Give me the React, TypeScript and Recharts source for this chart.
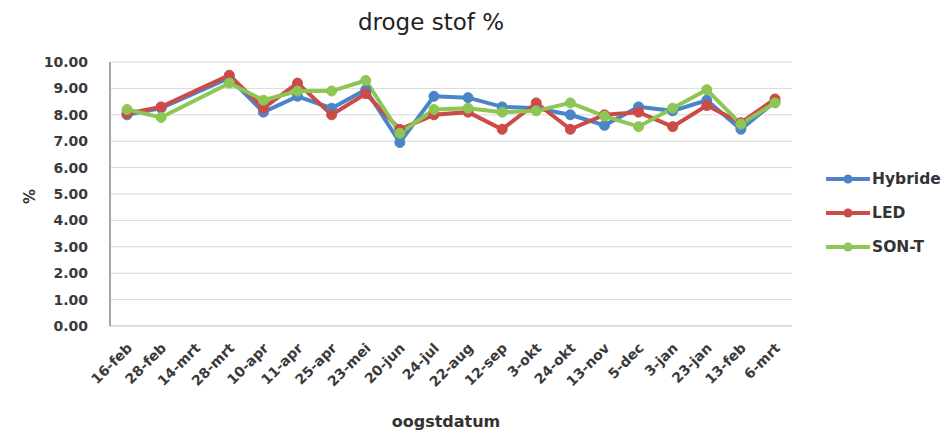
import {
  CartesianGrid,
  Legend,
  Line,
  LineChart,
  XAxis,
  YAxis,
} from "recharts";

const dates = [
  "16-feb", "28-feb", "14-mrt", "28-mrt", "10-apr", "11-apr", "25-apr",
  "23-mei", "20-jun", "24-jul", "22-aug", "12-sep", "3-okt", "24-okt",
  "13-nov", "5-dec", "3-jan", "23-jan", "13-feb", "6-mrt",
];

const hybride = [
  8.0, 8.25, null, 9.4, 8.1, 8.7, 8.25, 8.95, 6.95, 8.7, 8.65, 8.3, 8.25,
  8.0, 7.6, 8.3, 8.15, 8.55, 7.45, 8.5,
];
const led = [
  8.05, 8.3, null, 9.5, 8.25, 9.2, 8.0, 8.8, 7.45, 8.0, 8.1, 7.45, 8.45,
  7.45, 8.0, 8.1, 7.55, 8.35, 7.7, 8.6,
];
const sonT = [
  8.2, 7.9, null, 9.2, 8.55, 8.9, 8.9, 9.3, 7.3, 8.2, 8.25, 8.1, 8.15,
  8.45, 7.95, 7.55, 8.25, 8.95, 7.65, 8.45,
];

const yTicks = [0, 1, 2, 3, 4, 5, 6, 7, 8, 9, 10];

const series = [
  { key: "Hybride", color: "#4a85c9" },
  { key: "LED", color: "#cc4b46" },
  { key: "SON-T", color: "#8dc653" },
];

const data = dates.map((d, i) => ({
  date: d,
  Hybride: hybride[i],
  LED: led[i],
  "SON-T": sonT[i],
}));

const font = "'DejaVu Sans', Verdana, sans-serif";

function DateTick({ x, y, payload }: any) {
  return (
    <g transform={`translate(${x + 6},${y + 15}) rotate(-45)`}>
      <text
        textAnchor="end"
        fontSize={14}
        fontWeight="bold"
        fill="#3a3a3a"
        fontFamily={font}
      >
        {payload.value}
      </text>
    </g>
  );
}

function SideLegend({ payload }: any) {
  return (
    <div
      style={{ fontFamily: font, fontSize: 15.5, fontWeight: "bold", color: "#333" }}
    >
      {(payload || []).map((p: any) => (
        <div
          key={p.value}
          style={{ display: "flex", alignItems: "center", height: 34 }}
        >
          <svg width={46} height={12}>
            <line x1={0} y1={6} x2={44} y2={6} stroke={p.color} strokeWidth={4} />
            <circle cx={22} cy={6} r={4.5} fill={p.color} />
          </svg>
          <span>{p.value}</span>
        </div>
      ))}
    </div>
  );
}

export default function App() {
  return (
    <div style={{ position: "relative", width: 944, height: 432, background: "#fff" }}>
      <style>{`body{margin:0}`}</style>
      <div
        style={{
          position: "absolute",
          top: 9,
          left: 0,
          width: 862,
          textAlign: "center",
          fontFamily: font,
          fontSize: 23,
          color: "#222",
        }}
      >
        droge stof %
      </div>
      <LineChart
        width={944}
        height={432}
        data={data}
        margin={{ top: 62, right: 152, left: 0, bottom: 0 }}
      >
        <CartesianGrid vertical={false} stroke="#d9d9d9" />
        <XAxis
          dataKey="date"
          height={106}
          padding={{ left: 17, right: 17 }}
          tick={<DateTick />}
          tickLine={false}
          interval={0}
          stroke="#cfcfcf"
          label={{
            value: "oogstdatum",
            position: "insideBottom",
            offset: 5,
            dx: -5,
            fontSize: 16,
            fontWeight: "bold",
            fill: "#333",
            fontFamily: font,
          }}
        />
        <YAxis
          width={110}
          domain={[0, 10]}
          ticks={yTicks}
          tickFormatter={(v: number) => v.toFixed(2)}
          tickLine={false}
          tickMargin={16}
          stroke="#a6a6a6"
          strokeWidth={2}
          tick={{ fontSize: 14, fontWeight: "bold", fill: "#3a3a3a", fontFamily: font }}
          label={{
            value: "%",
            angle: -90,
            position: "insideLeft",
            offset: 30,
            dy: 10,
            fontSize: 15,
            fontWeight: "bold",
            fill: "#333",
            fontFamily: font,
          }}
        />
        <Legend
          layout="vertical"
          align="center"
          verticalAlign="middle"
          content={<SideLegend />}
          wrapperStyle={{ position: "absolute", left: 826, top: 162, width: 118 }}
        />
        {series.map((s) => (
          <Line
            key={s.key}
            dataKey={s.key}
            stroke={s.color}
            strokeWidth={4}
            dot={{ r: 5, fill: s.color, stroke: s.color, strokeWidth: 1 }}
            activeDot={false}
            connectNulls
            isAnimationActive={false}
          />
        ))}
      </LineChart>
    </div>
  );
}
